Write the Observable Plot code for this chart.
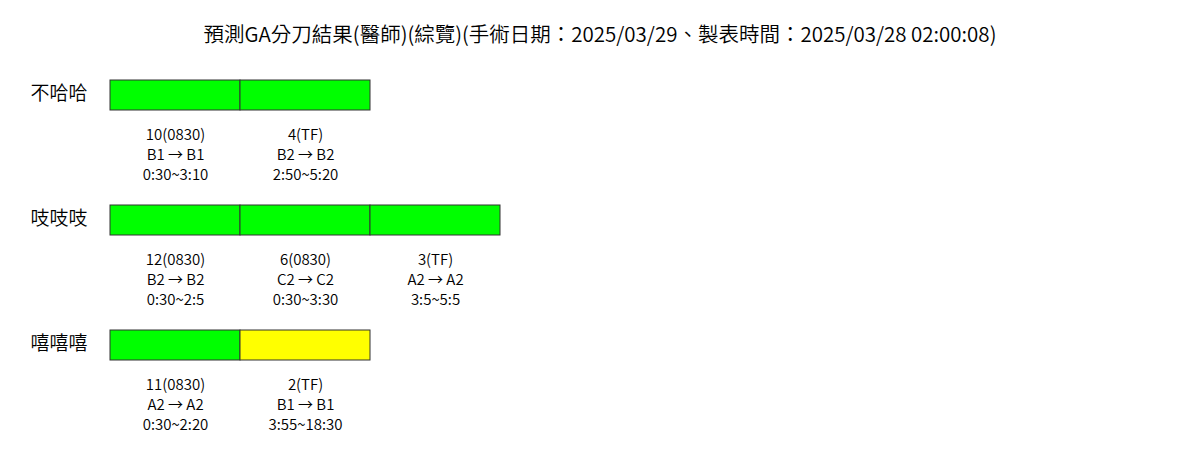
<!DOCTYPE html>
<html>
<head>
<meta charset="utf-8">
<script src="https://cdn.jsdelivr.net/npm/d3@7"></script>
<script src="https://cdn.jsdelivr.net/npm/@observablehq/plot@0.6"></script>
<style>
  html, body { margin: 0; padding: 0; background: #fff; }
  #title { box-sizing: border-box; width: 1200px; height: 60px; padding-top: 21px; line-height: 24px;
    text-align: center; font-family: "Noto Sans CJK TC", sans-serif; font-size: 20.5px; color: #000; font-weight: 350; }
  svg { display: block; }
</style>
</head>
<body>
<div id="title"></div>
<div id="chart"></div>
<script>
const titleText = "預測GA分刀結果(醫師)(綜覽)(手術日期：2025/03/29、製表時間：2025/03/28 02:00:08)";
const doctors = ["不哈哈", "吱吱吱", "嘻嘻嘻"];
const caseDoctor = ["不哈哈", "不哈哈", "吱吱吱", "吱吱吱", "吱吱吱", "嘻嘻嘻", "嘻嘻嘻"];
const caseIds = ["10(0830)", "4(TF)", "12(0830)", "6(0830)", "3(TF)", "11(0830)", "2(TF)"];
const caseFrom = ["B1", "B2", "B2", "C2", "A2", "A2", "B1"];
const caseTo = ["B1", "B2", "B2", "C2", "A2", "A2", "B1"];
const caseTimes = ["0:30~3:10", "2:50~5:20", "0:30~2:5", "0:30~3:30", "3:5~5:5", "0:30~2:20", "3:55~18:30"];
const caseStatus = ["ok", "ok", "ok", "ok", "ok", "ok", "warn"];
const statusDomain = ["ok", "warn"];
const statusColors = ["#00ff00", "#ffff00"];

document.getElementById("title").textContent = titleText;

const slotCount = {};
const cases = caseIds.map((id, i) => {
  const d = caseDoctor[i];
  const slot = slotCount[d] || 0;
  slotCount[d] = slot + 1;
  return {
    row: doctors.indexOf(d),
    slot,
    label: `${id}\n${caseFrom[i]} → ${caseTo[i]}\n${caseTimes[i]}`,
    status: caseStatus[i]
  };
});
const rowData = doctors.map((name, row) => ({name, row}));

const font = "Noto Sans CJK TC, sans-serif";
const chart = Plot.plot({
  width: 1200,
  height: 415,
  marginLeft: 30,
  marginRight: 0,
  marginTop: 0,
  marginBottom: 0,
  style: {fontFamily: font, background: "#fff"},
  x: {type: "linear", domain: [0, 1], range: [110, 240], axis: null},
  y: {type: "linear", domain: [0, 1], range: [20, 145], axis: null},
  color: {domain: statusDomain, range: statusColors},
  marks: [
    Plot.rect(cases, {
      x1: d => d.slot, x2: d => d.slot + 1,
      y1: d => d.row, y2: d => d.row + 0.24,
      fill: "status", stroke: "#333", strokeWidth: 1
    }),
    Plot.text(cases, {
      x: d => d.slot + 0.5, y: "row", text: "label",
      dy: 73, lineAnchor: "middle", lineHeight: 1.34,
      fontSize: 15, fontWeight: 350, fill: "#000", textAnchor: "middle"
    }),
    Plot.text(rowData, {
      y: "row", text: "name", frameAnchor: "left", dy: 13,
      textAnchor: "start", fontSize: 19, fontWeight: 350, fill: "#000"
    })
  ]
});
document.getElementById("chart").appendChild(chart);
</script>
</body>
</html>
